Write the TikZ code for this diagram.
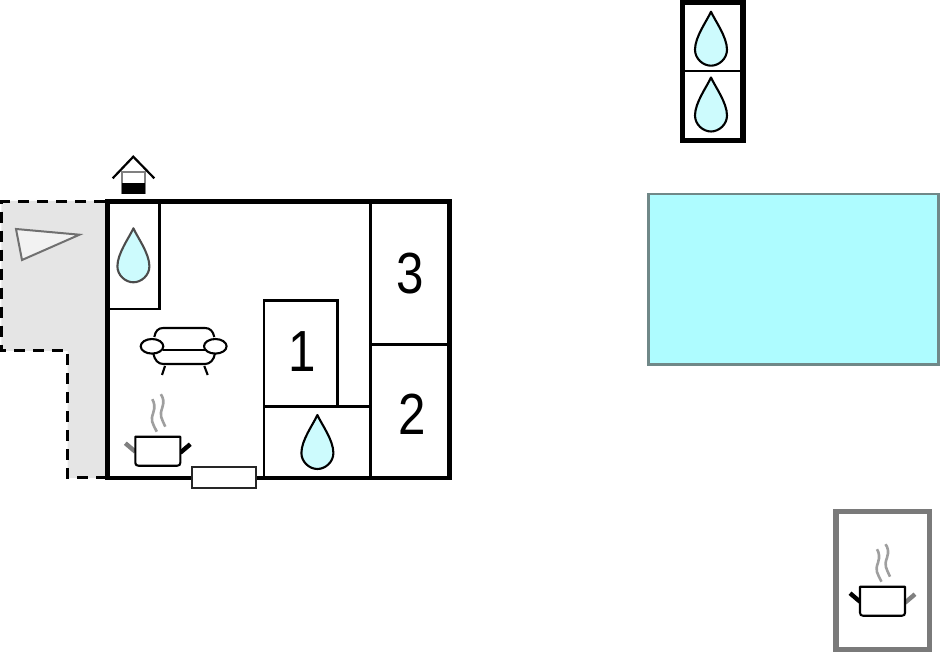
\documentclass[tikz,border=0pt]{standalone}
\usepackage{fontspec}
\setmainfont{Liberation Sans}
\usepackage{tikz}

\definecolor{dropblue}{HTML}{CDFBFD}
\definecolor{poolblue}{HTML}{AEFCFF}
\definecolor{poolline}{HTML}{708888}
\definecolor{terrace}{HTML}{E5E5E5}
\definecolor{shedgray}{HTML}{7A7A7A}
\definecolor{signgray}{HTML}{707070}

\tikzset{
    wall/.style={line width=4.8pt, line join=miter},
    partition/.style={line width=2.6pt},
    icon/.style={line width=2.1pt, line join=round},
    dashwall/.style={line width=3pt, dash pattern=on 11pt off 8pt},
    roomnum/.style={font=\fontsize{58}{58}\selectfont, inner sep=0pt, xscale=0.85, transform shape},
    pics/waterdrop/.style={code={
        \draw[icon, fill=dropblue, draw=#1] (0,0) .. controls (-4,9) and (-16,25) .. (-16,38)
            .. controls (-16,47) and (-8,54) .. (0,54)
            .. controls (8,54) and (16,47) .. (16,38)
            .. controls (16,25) and (4,9) .. (0,0) -- cycle;
    }},
    pics/pot/.style 2 args={code={
        % handles
        \draw[line width=4.4pt, draw=#1] (0,15) -- (-10,6.5);
        \draw[line width=4.4pt, draw=#2] (45,16) -- (55,7.5);
        % steam
        \draw[line width=2.6pt, gray!75] (21.5,-5) .. controls (17,-14) and (15,-16) .. (18,-24)
            .. controls (20,-30) and (19,-34) .. (17,-37.5);
        \draw[line width=2.6pt, gray!75] (30,-10) .. controls (26,-19) and (24,-21) .. (27,-29)
            .. controls (29,-35) and (28,-39) .. (25.5,-42.5);
        % body
        \draw[icon, fill=white] (0,0) -- (45,0) -- (45,26) .. controls (45,28) and (44,29) .. (42,29)
            -- (3,29) .. controls (1,29) and (0,28) .. (0,26) -- cycle;
    }}
}

\begin{document}
\begin{tikzpicture}[x=1pt, y=-1pt]
    \useasboundingbox (0,0) rectangle (940,652);

    % Terrace
    \fill[terrace] (1.3,201) -- (107,201) -- (107,478) -- (67.5,478) -- (67.5,351) -- (1.3,351) -- cycle;
    \draw[dashwall] (105,201.3) -- (1.3,201.3) -- (1.3,351) -- (67.5,351) -- (67.5,477.7) -- (105,477.7);
    \draw[line width=2pt, draw=signgray, fill=black!5] (16,229) -- (79.5,234.7) -- (22,260) -- cycle;

    % Inner walls
    \draw[partition] (370.7,201) -- (370.7,478);
    \draw[partition] (370.7,344.3) -- (449,344.3);
    \draw[partition] (264,478) -- (264,300.7) -- (337.7,300.7) -- (337.7,406.3);
    \draw[partition] (264,406.3) -- (370.7,406.3);
    \draw[partition] (107.5,309) -- (159.7,309) -- (159.7,201);

    % Main house
    \draw[wall] (107.5,201.3) rectangle (449.6,478);

    % Door
    \draw[line width=2.2pt, draw=black!85, fill=white] (191.7,466.7) rectangle (255.7,488.3);

    % Well
    \draw[line width=1.8pt, draw=gray, fill=white] (122.3,171.7) rectangle (144.7,193);
    \fill (121.7,182.7) rectangle (145.3,193.7);
    \draw[line width=2.2pt] (112.7,178.3) -- (133.3,156.7) -- (154.3,178.3);

    % Drops
    \foreach \x/\y/\c in {133.4/228.3/black!70, 317.4/415/black, 711/11.7/black, 711/77.5/black} {
        \pic at (\x,\y) {waterdrop=\c};
    }

    % Sofa
    \draw[icon] (154.3,337) .. controls (155.5,331) and (158,328) .. (163.3,328) -- (205,328)
        .. controls (210,328) and (213,331) .. (214.3,337);
    \draw[icon] (163,350) -- (205,350);
    \draw[icon] (153.3,353.3) .. controls (154.5,360) and (158,364) .. (163.3,364) -- (205,364)
        .. controls (210,364) and (214,360) .. (215,353.3);
    \draw[icon] (165,366) -- (162,375);
    \draw[icon] (204.3,366) -- (207.7,375);
    \draw[icon, fill=white] (152,346.3) ellipse (11.3 and 7.3);
    \draw[icon, fill=white] (215.3,346.3) ellipse (11.3 and 7.3);

    % Pots
    \pic at (135.3,436.7) {pot={gray}{black}};
    \pic at (860,586.7) {pot={black}{gray}};

    % Separate buildings
    \draw[wall, line width=5.4pt] (682.5,2.5) rectangle (743,140.5);
    \draw[partition] (682.5,71) -- (743,71);
    \draw[line width=2.8pt, draw=poolline, fill=poolblue] (648.5,194) rectangle (938.7,364.5);
    \draw[wall, line width=5.4pt, draw=shedgray] (836,511.5) rectangle (929.5,649.5);

    % Room numbers
    \foreach \x/\y/\t in {302/352/1, 412.5/414/2, 410/273.5/3} {
        \node[roomnum] (room\t) at (\x,\y) {\t};
    }
\end{tikzpicture}
\end{document}
